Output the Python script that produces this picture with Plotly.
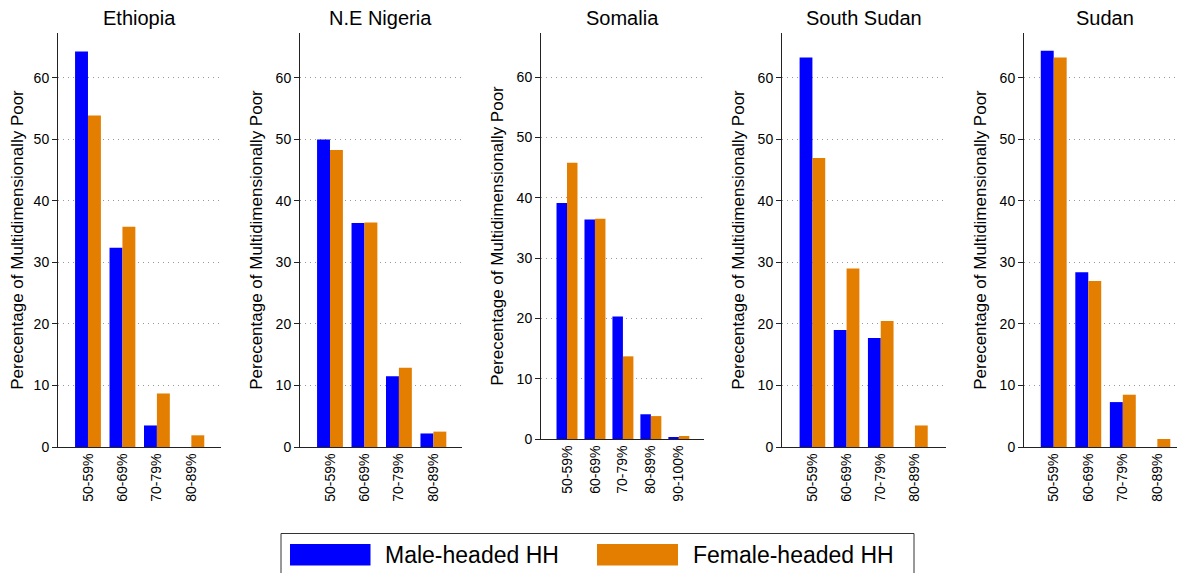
import plotly.graph_objects as go

W, H = 1185, 573
OX, OY = 8, 8  # page body margin offset compensation

countries = ["Ethiopia", "N.E Nigeria", "Somalia", "South Sudan", "Sudan"]
cats_4 = ["50-59%", "60-69%", "70-79%", "80-89%"]
cats_5 = ["50-59%", "60-69%", "70-79%", "80-89%", "90-100%"]

ethiopia_male = [64.3, 32.4, 3.5, 0]
ethiopia_female = [53.9, 35.8, 8.7, 1.9]
nigeria_male = [50.0, 36.4, 11.5, 2.2]
nigeria_female = [48.3, 36.5, 12.9, 2.5]
somalia_male = [39.1, 36.4, 20.3, 4.1, 0.3]
somalia_female = [45.8, 36.5, 13.7, 3.8, 0.5]
ssudan_male = [63.3, 19.0, 17.7, 0]
ssudan_female = [47.0, 29.0, 20.5, 3.5]
sudan_male = [64.4, 28.4, 7.3, 0]
sudan_female = [63.3, 27.0, 8.5, 1.3]

series_names = ["Male-headed HH", "Female-headed HH"]
y_title = "Perecentage of Multidimensionally Poor"
y_ticks = [0, 10, 20, 30, 40, 50, 60]

BLUE = "#0000FF"
ORANGE = "#E37E00"
FONT = "Liberation Sans, Arial, sans-serif"

panels = [
    (cats_4, ethiopia_male, ethiopia_female),
    (cats_4, nigeria_male, nigeria_female),
    (cats_5, somalia_male, somalia_female),
    (cats_4, ssudan_male, ssudan_female),
    (cats_4, sudan_male, sudan_female),
]


def px_x(x):
    return (x - OX) / W


def px_y(y):
    return 1 - (y - OY) / H


# layout geometry (window pixels)
x_px = [(58, 221), (300, 462), (541, 704), (782, 946), (1024, 1185)]
top_px = 33
bottom_px = [447, 447, 439, 447, 447]
x_ranges = [[-0.87, 3.86], [-0.87, 3.83], [-0.93, 4.9], [-0.89, 3.91], [-0.86, 3.8]]

fig = go.Figure()
layout = dict(
    width=W, height=H,
    margin=dict(l=0, r=0, t=0, b=0),
    paper_bgcolor="white", plot_bgcolor="white",
    barmode="group", bargap=0.25, bargroupgap=0,
    showlegend=False,
    font=dict(family=FONT, color="black"),
)
annotations = []
shapes = []

for i, (cats, male, female) in enumerate(panels):
    n = "" if i == 0 else str(i + 1)
    xa, ya = "x" + n, "y" + n
    fig.add_trace(go.Bar(x=cats, y=male, name=series_names[0], marker=dict(color=BLUE, line=dict(width=0)),
                         xaxis=xa, yaxis=ya, showlegend=False))
    fig.add_trace(go.Bar(x=cats, y=female, name=series_names[1], marker=dict(color=ORANGE, line=dict(width=0)),
                         xaxis=xa, yaxis=ya, showlegend=False))
    x0, x1 = x_px[i]
    dom_x = [px_x(x0), min(px_x(x1), 1.0)]
    dom_y = [px_y(bottom_px[i]), px_y(top_px)]
    layout["xaxis" + n] = dict(
        domain=dom_x, anchor=ya, type="category", range=x_ranges[i],
        showline=True, linecolor="#222", linewidth=1, ticks="",
        tickangle=-90, tickfont=dict(size=14, family=FONT, color="black"),
        showgrid=False, zeroline=False, fixedrange=True, automargin=False,
    )
    layout["yaxis" + n] = dict(
        domain=dom_y, anchor=xa, range=[0, 67.3], tickvals=y_ticks,
        showline=True, linecolor="#222", linewidth=1,
        ticks="outside", ticklen=5, tickcolor="#222",
        tickfont=dict(size=14, family=FONT, color="black"),
        showgrid=True, gridcolor="#999999", griddash="1px,4px", gridwidth=1,
        zeroline=False, automargin=False,
        title=dict(text=y_title, font=dict(size=17, family=FONT, color="black"), standoff=8),
    )
    annotations.append(dict(
        text=countries[i], x=px_x((x0 + x1) / 2),
        y=px_y(18), xref="paper", yref="paper", xanchor="center", yanchor="middle",
        showarrow=False, font=dict(size=20, family=FONT, color="black"),
    ))

# legend box (drawn manually to match reference key size)
shapes.append(dict(type="rect", xref="paper", yref="paper",
                   x0=px_x(281), x1=px_x(914), y0=px_y(580), y1=px_y(533.5),
                   line=dict(color="#333", width=1), fillcolor="white"))
shapes.append(dict(type="rect", xref="paper", yref="paper",
                   x0=px_x(290), x1=px_x(370.5), y0=px_y(565.5), y1=px_y(544),
                   line=dict(width=0), fillcolor=BLUE))
shapes.append(dict(type="rect", xref="paper", yref="paper",
                   x0=px_x(597), x1=px_x(678), y0=px_y(565.5), y1=px_y(544),
                   line=dict(width=0), fillcolor=ORANGE))
annotations.append(dict(text=series_names[0], x=px_x(383), y=px_y(555), xref="paper", yref="paper",
                        xanchor="left", yanchor="middle", showarrow=False,
                        font=dict(size=23, family=FONT, color="black")))
annotations.append(dict(text=series_names[1], x=px_x(691), y=px_y(555), xref="paper", yref="paper",
                        xanchor="left", yanchor="middle", showarrow=False,
                        font=dict(size=23, family=FONT, color="black")))

layout["annotations"] = annotations
layout["shapes"] = shapes
fig.update_layout(**layout)
fig.write_html("out.html")
